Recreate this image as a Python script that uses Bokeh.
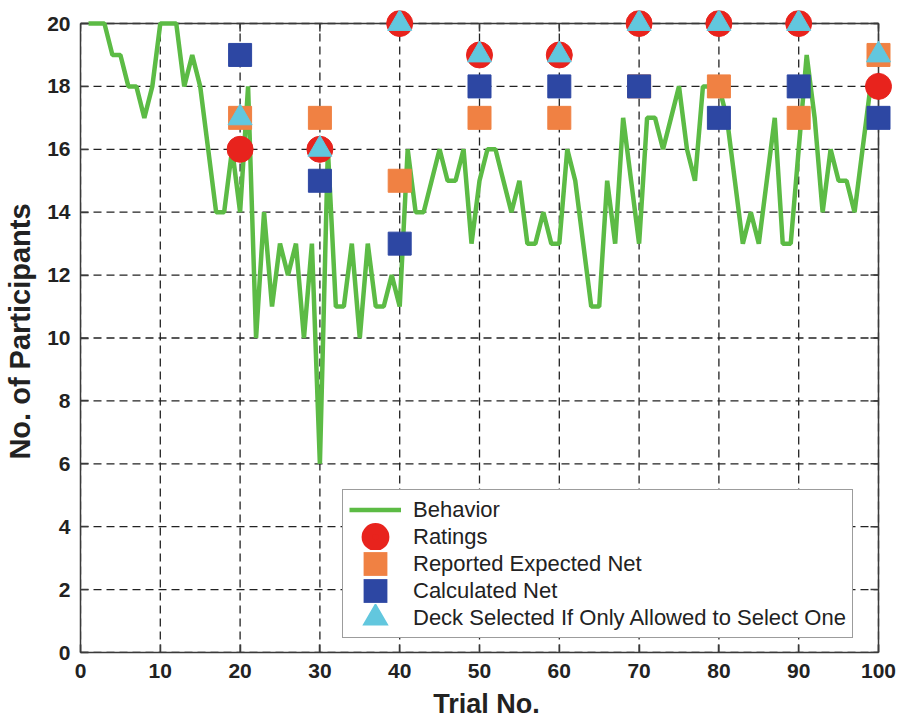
import math
from bokeh.plotting import figure
from bokeh.models import Range1d, FixedTicker, Legend, LegendItem
from bokeh.embed import file_html
from bokeh.resources import INLINE

# ---- data ----
trials = list(range(1, 101))
behavior = [20, 20, 20, 19, 19, 18, 18, 17, 18, 20,
            20, 20, 18, 19, 18, 16, 14, 14, 16, 14,
            18, 10, 14, 11, 13, 12, 13, 10, 13, 6,
            16, 11, 11, 13, 10, 13, 11, 11, 12, 11,
            16, 14, 14, 15, 16, 15, 15, 16, 13, 15,
            16, 16, 15, 14, 15, 13, 13, 14, 13, 13,
            16, 15, 13, 11, 11, 15, 13, 17, 15, 13,
            17, 17, 16, 17, 18, 16, 15, 18, 18, 18,
            17, 15, 13, 14, 13, 15, 17, 13, 13, 16,
            19, 17, 14, 16, 15, 15, 14, 16, 18, 18]
marker_trials = [20, 30, 40, 50, 60, 70, 80, 90, 100]
ratings = [16, 16, 20, 19, 19, 20, 20, 20, 18]
reported_expected_net = [17, 17, 15, 17, 17, 18, 18, 17, 19]
calculated_net = [19, 15, 13, 18, 18, 18, 17, 18, 17]
deck_selected = [17, 16, 20, 19, 19, 20, 20, 20, 19]
x_ticks = list(range(0, 101, 10))
y_ticks = list(range(0, 21, 2))

GREEN = "#5cbb45"
RED = "#e8231d"
ORANGE = "#f08143"
BLUE = "#2d47a3"
CYAN = "#62c7de"
AXIS = "#3a3a3a"
TEXT = "#222222"
FONT = "Liberation Sans"

x_lo, x_hi = x_ticks[0], x_ticks[-1]
y_lo, y_hi = y_ticks[0], y_ticks[-1]

# data box is 798 x 629 px; extra room on the top/right so markers are not clipped
PX_X = 798 / (x_hi - x_lo)
PX_Y = 629 / (y_hi - y_lo)
pad_r, pad_t = 14, 13

p = figure(frame_width=798 + pad_r, frame_height=629 + pad_t,
           x_range=Range1d(x_lo, x_hi + pad_r / PX_X),
           y_range=Range1d(y_lo, y_hi + pad_t / PX_Y),
           output_backend="svg", toolbar_location=None,
           min_border_left=80, min_border_right=8,
           min_border_top=10, min_border_bottom=60)
p.background_fill_color = "white"
p.border_fill_color = "white"
p.outline_line_color = None
p.xgrid.visible = False
p.ygrid.visible = False

for ax in (p.xaxis[0], p.yaxis[0]):
    ax.axis_line_color = AXIS
    ax.axis_line_width = 1.5
    ax.major_tick_in = 8
    ax.major_tick_out = 0
    ax.minor_tick_line_color = None
    ax.major_tick_line_color = AXIS
    ax.major_tick_line_width = 1.5
    ax.major_label_text_font = FONT
    ax.major_label_text_font_style = "bold"
    ax.major_label_text_font_size = "21px"
    ax.major_label_text_color = TEXT
    ax.axis_label_text_font = FONT
    ax.axis_label_text_font_style = "bold"
    ax.axis_label_text_color = TEXT

p.xaxis[0].ticker = FixedTicker(ticks=x_ticks)
p.yaxis[0].ticker = FixedTicker(ticks=y_ticks)
p.xaxis[0].bounds = (x_lo, x_hi)
p.yaxis[0].bounds = (y_lo, y_hi)
p.xaxis[0].axis_label = "Trial No."
p.yaxis[0].axis_label = "No. of Participants"
p.xaxis[0].axis_label_text_font_size = "27px"
p.yaxis[0].axis_label_text_font_size = "29px"
p.xaxis[0].major_label_standoff = 11
p.xaxis[0].axis_label_standoff = 8
p.yaxis[0].major_label_standoff = 10
p.yaxis[0].axis_label_standoff = 8

# dashed grid from the tick lists
p.segment(x0=x_ticks, y0=[y_lo] * len(x_ticks), x1=x_ticks, y1=[y_hi] * len(x_ticks),
          line_color="#222222", line_dash="8 5", line_width=1.3)
p.segment(x0=[x_lo] * len(y_ticks), y0=y_ticks, x1=[x_hi] * len(y_ticks), y1=y_ticks,
          line_color="#222222", line_dash="8 5", line_width=1.3)

# top and right box edges with inward ticks
p.segment(x0=[x_lo, x_hi], y0=[y_hi, y_lo], x1=[x_hi, x_hi], y1=[y_hi, y_hi],
          line_color=AXIS, line_width=1.5)
p.ray(x=x_ticks, y=[y_hi] * len(x_ticks), length=8, length_units="screen",
      angle=-math.pi / 2, line_color=AXIS, line_width=1.5)
p.ray(x=[x_hi] * len(y_ticks), y=y_ticks, length=8, length_units="screen",
      angle=math.pi, line_color=AXIS, line_width=1.5)

r_line = p.line(trials, behavior, line_color=GREEN, line_width=4.5)
p.scatter(marker_trials, reported_expected_net, marker="square", size=23,
          fill_color=ORANGE, line_color=ORANGE)
p.scatter(marker_trials, calculated_net, marker="square", size=23,
          fill_color=BLUE, line_color=BLUE)
p.scatter(marker_trials, ratings, marker="circle", size=26,
          fill_color=RED, line_color=RED)
p.scatter(marker_trials, deck_selected, marker="triangle", size=24,
          fill_color=CYAN, line_color=CYAN)

# hidden copies used only for the (larger) legend symbols
lg_red = p.scatter(marker_trials, ratings, marker="circle", fill_color=RED,
                   line_color=RED, line_width=17, visible=False)
lg_orange = p.scatter(marker_trials, reported_expected_net, marker="square", fill_color=ORANGE,
                      line_color=ORANGE, line_width=13, line_join="miter", visible=False)
lg_blue = p.scatter(marker_trials, calculated_net, marker="square", fill_color=BLUE,
                    line_color=BLUE, line_width=13, line_join="miter", visible=False)
lg_cyan = p.scatter(marker_trials, deck_selected, marker="triangle", fill_color=CYAN,
                    line_color=CYAN, line_width=9, line_join="miter", visible=False)

legend = Legend(items=[
    LegendItem(label="Behavior", renderers=[r_line]),
    LegendItem(label="Ratings", renderers=[lg_red]),
    LegendItem(label="Reported Expected Net", renderers=[lg_orange]),
    LegendItem(label="Calculated Net", renderers=[lg_blue]),
    LegendItem(label="Deck Selected If Only Allowed to Select One", renderers=[lg_cyan]),
], location=(262, 14))
legend.label_text_font = FONT
legend.label_text_font_size = "22px"
legend.label_text_color = TEXT
legend.glyph_width = 52
legend.glyph_height = 27
legend.label_height = 27
legend.label_standoff = 12
legend.spacing = 0
legend.padding = 6
legend.margin = 0
legend.border_line_color = AXIS
legend.border_line_width = 1.5
legend.background_fill_color = "white"
legend.background_fill_alpha = 1
p.add_layout(legend, "center")

open("out.html", "w").write(file_html(p, INLINE))
